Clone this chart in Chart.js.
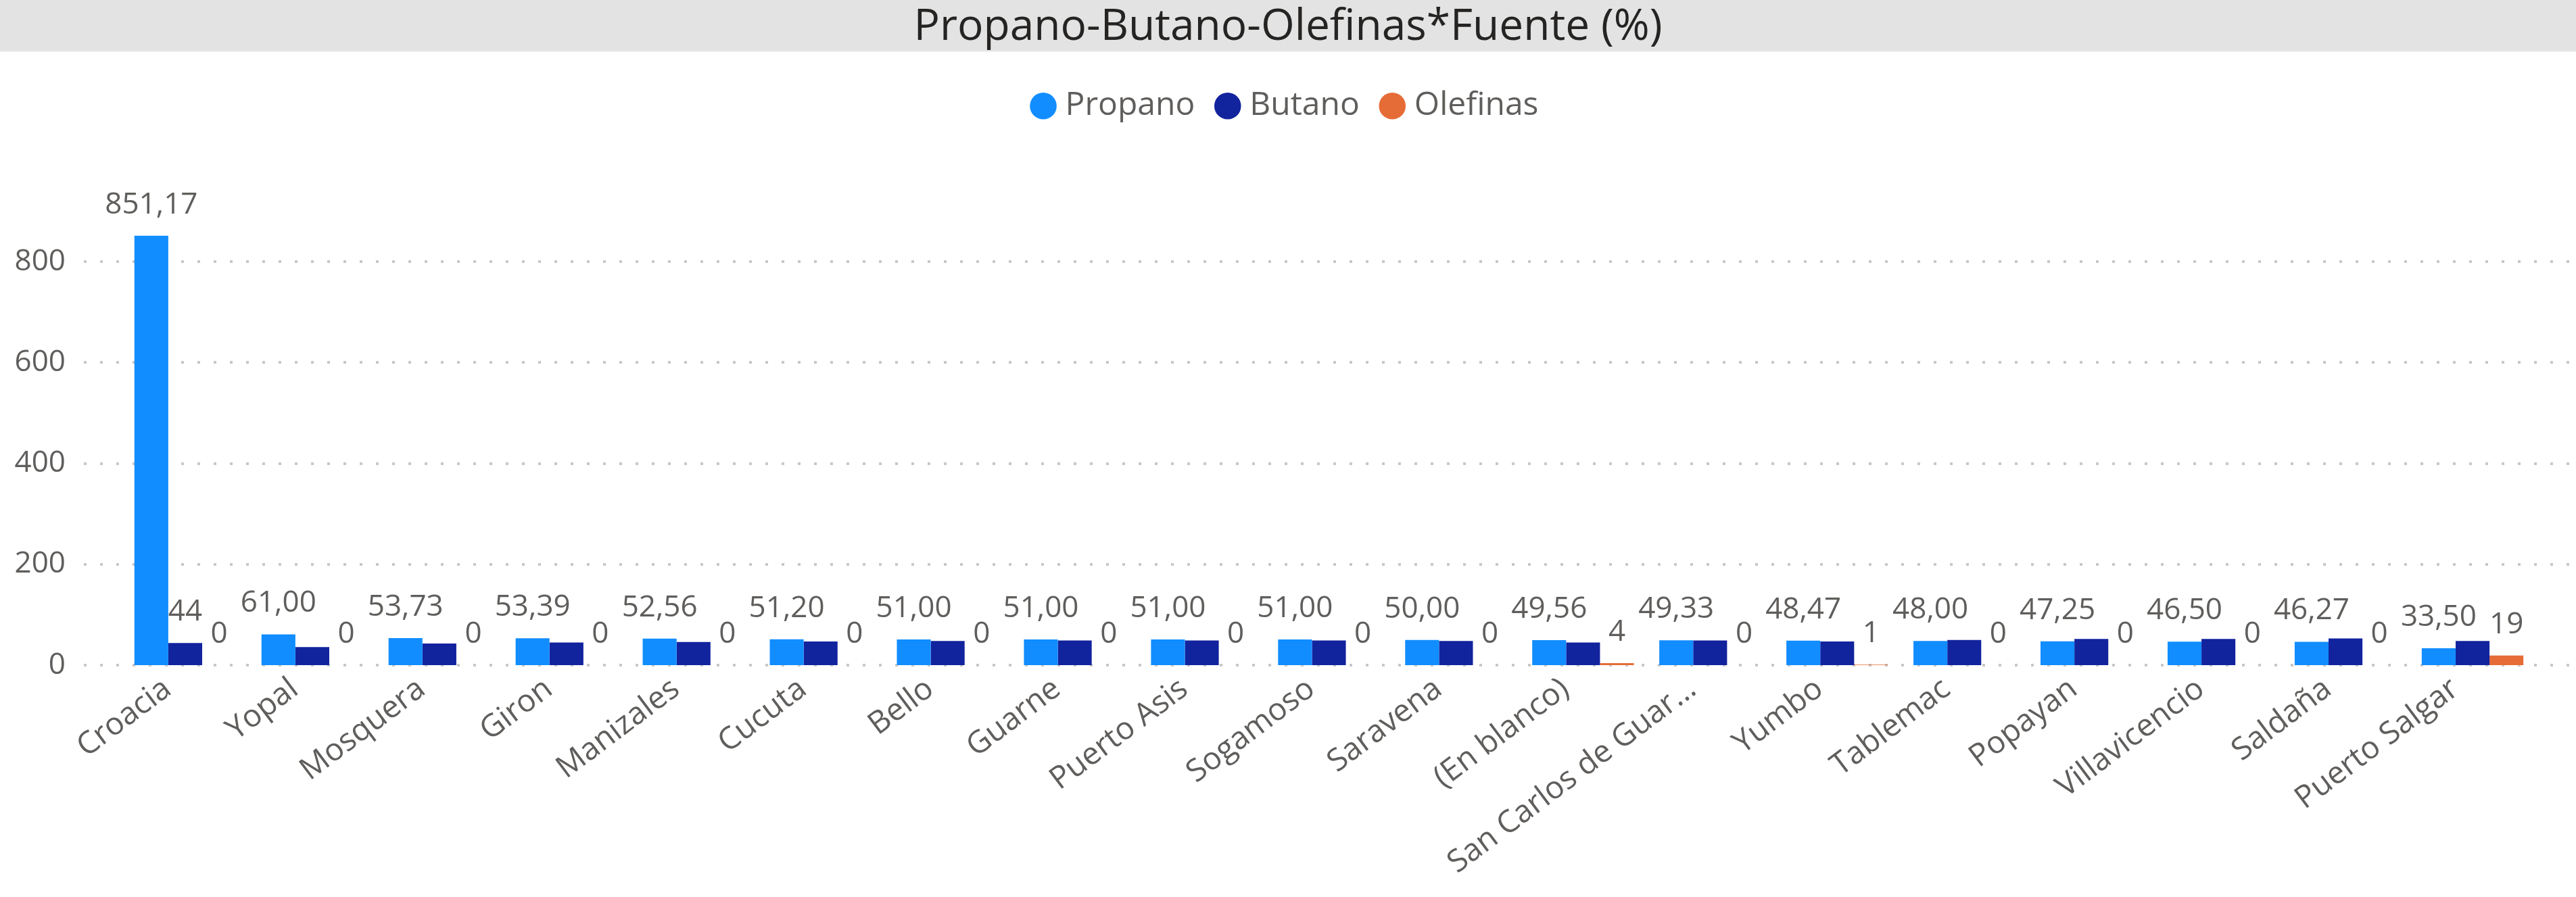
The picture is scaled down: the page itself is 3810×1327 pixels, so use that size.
<!DOCTYPE html>
<html>
<head>
<meta charset="utf-8">
<script src="https://cdn.jsdelivr.net/npm/chart.js@4.4.1/dist/chart.umd.min.js"></script>
<style>
  html, body { margin: 0; padding: 0; background: #ffffff; }
  #wrap { width: 3810px; height: 1327px; }
</style>
</head>
<body>
<div id="wrap"><canvas id="chart" width="3810" height="1327"></canvas></div>
<script>
// data
const categories = ["Croacia", "Yopal", "Mosquera", "Giron", "Manizales", "Cucuta", "Bello", "Guarne",
  "Puerto Asis", "Sogamoso", "Saravena", "(En blanco)", "San Carlos de Guar...", "Yumbo", "Tablemac",
  "Popayan", "Villavicencio", "Saldaña", "Puerto Salgar"]
const propano = [851.17, 61.00, 53.73, 53.39, 52.56, 51.20, 51.00, 51.00, 51.00, 51.00, 50.00, 49.56, 49.33,
  48.47, 48.00, 47.25, 46.50, 46.27, 33.50]
const butano = [44, 36, 43, 45, 46, 47, 48, 49, 49, 49, 48, 45, 49, 47, 50, 52, 52, 53, 48]
const olefinas = [0, 0, 0, 0, 0, 0, 0, 0, 0, 0, 0, 4, 0, 1, 0, 0, 0, 0, 19]
const yTicks = [0, 200, 400, 600, 800]

const FONT = "'Open Sans', 'Noto Sans', sans-serif"
const TEXT = "#605E5C"

// gray title band
const bandPlugin = {
  id: "band",
  beforeDraw(chart) {
    const ctx = chart.ctx
    ctx.save()
    ctx.fillStyle = "#e3e3e3"
    ctx.fillRect(0, 0, chart.width, 75)
    ctx.fillStyle = "#eeeeee"
    ctx.fillRect(0, 75, chart.width, 2)
    ctx.restore()
  }
}

// dotted gridlines running the full width
const gridPlugin = {
  id: "dotGrid",
  beforeDatasetsDraw(chart) {
    const ctx = chart.ctx
    const y = chart.scales.y
    ctx.save()
    ctx.strokeStyle = "#c8c8c8"
    ctx.lineWidth = 4
    ctx.setLineDash([4, 20])
    yTicks.forEach(v => {
      const py = Math.round(y.getPixelForValue(v))
      ctx.beginPath()
      ctx.moveTo(124, py)
      ctx.lineTo(chart.width, py)
      ctx.stroke()
    })
    ctx.restore()
  }
}

// value labels above bars, dropping the ones that collide
const labelPlugin = {
  id: "valueLabels",
  afterDatasetsDraw(chart) {
    const ctx = chart.ctx
    ctx.save()
    ctx.font = "44px " + FONT
    ctx.fillStyle = TEXT
    ctx.textAlign = "center"
    ctx.textBaseline = "alphabetic"
    const placed = []
    chart.data.datasets.forEach((ds, di) => {
      const meta = chart.getDatasetMeta(di)
      meta.data.forEach((bar, i) => {
        const v = ds.data[i]
        const txt = di === 0 ? v.toFixed(2).replace(".", ",") : String(Math.round(v))
        const w = ctx.measureText(txt).width
        const base = bar.y - 33
        const r = { l: bar.x - w / 2, r: bar.x + w / 2, t: base - 33, b: base }
        const hit = placed.some(p => r.l < p.r && r.r > p.l && r.t < p.b && r.b > p.t)
        if (hit) return
        placed.push(r)
        ctx.fillText(txt, bar.x, base)
      })
    })
    ctx.restore()
  }
}

new Chart(document.getElementById("chart"), {
  type: "bar",
  data: {
    labels: categories,
    datasets: [
      { label: "Propano", data: propano, backgroundColor: "#118DFF" },
      { label: "Butano", data: butano, backgroundColor: "#12239E" },
      { label: "Olefinas", data: olefinas, backgroundColor: "#E66C37" }
    ]
  },
  options: {
    responsive: false,
    animation: false,
    events: [],
    layout: { padding: 0 },
    datasets: { bar: { barPercentage: 1, categoryPercentage: 0.8 } },
    plugins: {
      title: {
        display: true,
        text: "Propano-Butano-Olefinas*Fuente (%)",
        color: "#252423",
        font: { family: FONT, size: 64, weight: "normal", lineHeight: 1.2 },
        padding: { top: 2, bottom: 14 }
      },
      legend: {
        display: true,
        position: "top",
        labels: {
          color: TEXT,
          font: { family: FONT, size: 48 },
          usePointStyle: true,
          pointStyle: "circle",
          boxWidth: 17,
          boxHeight: 28,
          padding: 40
        }
      },
      tooltip: { enabled: false }
    },
    scales: {
      x: {
        grid: { display: false },
        border: { display: false },
        ticks: {
          color: TEXT,
          font: { family: FONT, size: 46 },
          autoSkip: false,
          minRotation: 37,
          maxRotation: 37,
          labelOffset: -26,
          padding: 0
        },
        afterFit: (s) => { s.height = 343 }
      },
      y: {
        min: 0,
        max: 1063,
        grid: { display: false },
        border: { display: false },
        afterBuildTicks: (s) => { s.ticks = yTicks.map(v => ({ value: v })) },
        ticks: {
          color: TEXT,
          font: { family: FONT, size: 44 },
          padding: 75
        },
        afterFit: (s) => { s.width = 180 }
      },
      // empty right-hand gutter so the title and legend stay centred on the page
      gutter: {
        position: "right",
        grid: { display: false },
        border: { display: false },
        ticks: { display: false },
        afterFit: (s) => { s.width = 59 }
      }
    }
  },
  plugins: [bandPlugin, gridPlugin, labelPlugin]
})
</script>
</body>
</html>
